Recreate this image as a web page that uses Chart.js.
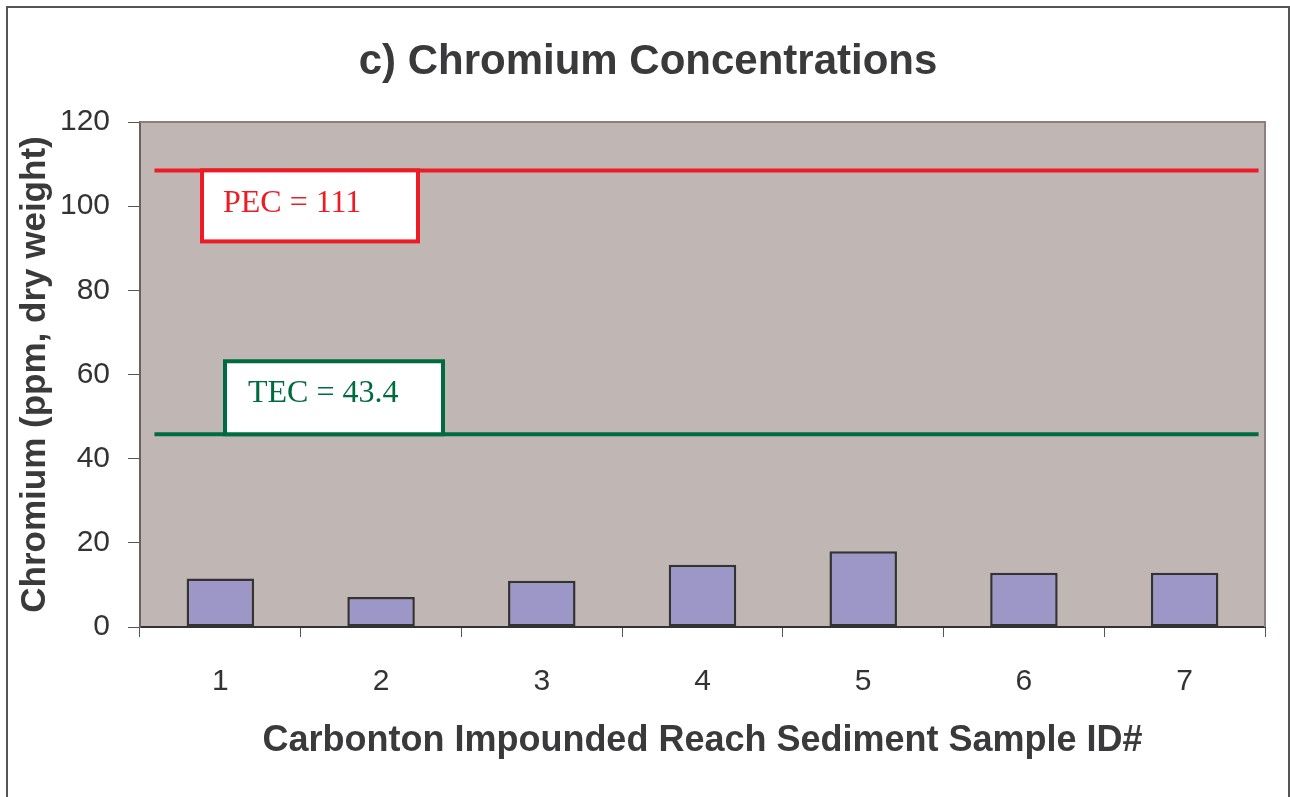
<!DOCTYPE html>
<html>
<head>
<meta charset="utf-8">
<script src="https://cdn.jsdelivr.net/npm/chart.js@4.4.0/dist/chart.umd.min.js"></script>
<style>
  html, body { margin: 0; padding: 0; background: #fff; overflow: hidden; }
  #chartContainer { display: block; }
</style>
</head>
<body>
<canvas id="chartContainer" width="1290" height="797"></canvas>
<script>
const ctx = document.getElementById('chartContainer').getContext('2d');

// data
const sampleIds = ['1', '2', '3', '4', '5', '6', '7'];
const chromium = [11.5, 7.1, 11.0, 14.8, 18.0, 12.9, 12.9];
const pecLevel = 108.5;   // where the red line is drawn
const tecLevel = 45.8;    // where the green line is drawn
const lineSpan = [0.59, 7.46];
const guideLabels = ['PEC = 111', 'TEC = 43.4'];
const chartTitle = 'c) Chromium Concentrations';

const sans = "'Liberation Sans', Arial, sans-serif";
const red = '#ED1C24';
const green = '#006B40';

// plot background, outer frame, title and the label boxes
const decor = {
  id: 'decor',
  beforeDraw(chart) {
    const c = chart.ctx, a = chart.chartArea;
    c.save();
    c.fillStyle = '#C0B7B4';
    c.fillRect(a.left, a.top, a.right - a.left, a.bottom - a.top);
    c.strokeStyle = '#555';
    c.lineWidth = 2;
    c.strokeRect(7, 7, 1282, 820);

    // title sits a little right of the canvas centre, as in the original
    c.fillStyle = '#3A3A3D';
    c.font = 'bold 42px ' + sans;
    c.textAlign = 'center';
    c.textBaseline = 'middle';
    c.fillText(chartTitle, 648, 62);
    c.restore();
  },
  afterDraw(chart) {
    const c = chart.ctx, a = chart.chartArea;
    const y = chart.scales.y;
    c.save();
    // top / right edge of plot
    c.strokeStyle = '#8C807E';
    c.lineWidth = 2;
    c.beginPath();
    c.moveTo(a.left, a.top);
    c.lineTo(a.right, a.top);
    c.lineTo(a.right, a.bottom);
    c.stroke();

    c.lineWidth = 4;
    c.font = "32px 'Liberation Serif', 'Times New Roman', serif";
    c.textBaseline = 'alphabetic';

    // PEC box hangs below the red line
    const py = y.getPixelForValue(pecLevel);
    c.fillStyle = '#fff';
    c.fillRect(a.left + 62, py, 216, 71);
    c.strokeStyle = red;
    c.strokeRect(a.left + 62, py, 216, 71);
    c.fillStyle = red;
    c.fillText(guideLabels[0], a.left + 83, py + 42);

    // TEC box sits on the green line
    const ty = y.getPixelForValue(tecLevel);
    c.fillStyle = '#fff';
    c.fillRect(a.left + 85, ty - 73, 218, 73);
    c.strokeStyle = green;
    c.strokeRect(a.left + 85, ty - 73, 218, 73);
    c.fillStyle = green;
    c.fillText(guideLabels[1], a.left + 108, ty - 32);
    c.restore();
  }
};

new Chart(ctx, {
  data: {
    labels: sampleIds,
    datasets: [
      {
        type: 'bar',
        data: chromium,
        backgroundColor: '#9D97C8',
        borderColor: '#333',
        borderWidth: 2.5,
        borderSkipped: false,
        grouped: false,
        barPercentage: 0.42,
        categoryPercentage: 1,
        order: 2
      },
      {
        type: 'line',
        xAxisID: 'xl',
        data: [{ x: lineSpan[0], y: pecLevel }, { x: lineSpan[1], y: pecLevel }],
        borderColor: red,
        borderWidth: 4,
        pointRadius: 0,
        order: 1
      },
      {
        type: 'line',
        xAxisID: 'xl',
        data: [{ x: lineSpan[0], y: tecLevel }, { x: lineSpan[1], y: tecLevel }],
        borderColor: green,
        borderWidth: 4,
        pointRadius: 0,
        order: 1
      }
    ]
  },
  options: {
    responsive: false,
    animation: false,
    layout: { padding: { left: 0, right: 25, top: 122, bottom: 0 } },
    plugins: {
      legend: { display: false },
      tooltip: { enabled: false },
      title: { display: false }
    },
    scales: {
      x: {
        type: 'category',
        offset: true,
        grid: { offset: true, drawOnChartArea: false, drawTicks: true, tickLength: 10, color: '#555' },
        border: { display: true, color: '#333', width: 2 },
        ticks: { color: '#333', padding: 27, font: { family: sans, size: 30 } },
        title: {
          display: true,
          text: 'Carbonton Impounded Reach Sediment Sample ID#',
          color: '#3A3A3D',
          font: { family: sans, size: 36, weight: 'bold', lineHeight: 1.2 },
          padding: { top: 0, bottom: 34 }
        },
        afterFit: s => { s.height = 170; }
      },
      xl: {
        type: 'linear',
        min: 0.5,
        max: 7.5,
        display: false
      },
      y: {
        min: 0,
        max: 120,
        ticks: { stepSize: 20, color: '#333', padding: 18, font: { family: sans, size: 30 } },
        grid: { drawOnChartArea: false, drawTicks: true, tickLength: 12, color: '#555' },
        border: { display: true, color: '#6B6060', width: 2 },
        title: {
          display: true,
          text: 'Chromium (ppm, dry weight)',
          color: '#3A3A3D',
          font: { family: sans, size: 35, weight: 'bold', lineHeight: 1.2 },
          padding: { top: 14, bottom: 0 }
        },
        afterFit: s => { s.width = 140; }
      }
    }
  },
  plugins: [decor]
});
</script>
</body>
</html>
